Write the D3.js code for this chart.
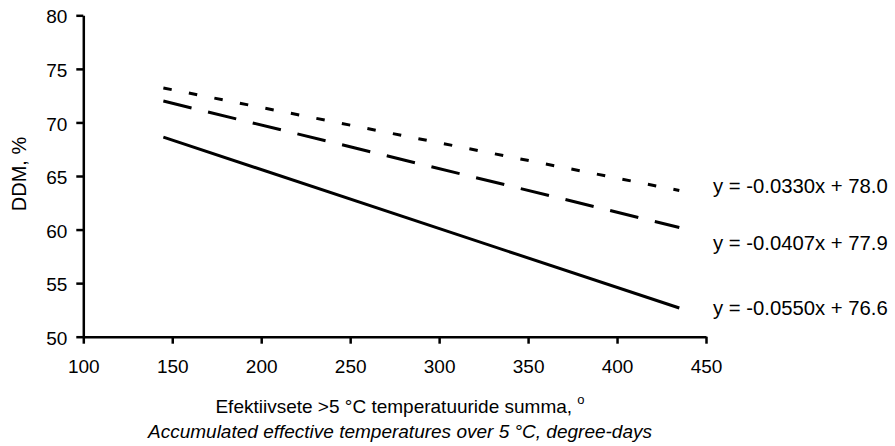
<!DOCTYPE html>
<html>
<head>
<meta charset="utf-8">
<script src="https://cdn.jsdelivr.net/npm/d3@7/dist/d3.min.js"></script>
<style>
  html, body { margin: 0; padding: 0; background: #fff; }
  svg { display: block; font-family: Arial, "Liberation Sans", sans-serif; }
</style>
</head>
<body>
<svg id="chart" width="895" height="446"></svg>
<script>
// Linear trend lines of DDM against accumulated effective temperature
const slopes = [-0.0330, -0.0407, -0.0550];
const intercepts = [78.0, 77.9, 76.6];
const seriesDash = ["8.5,17.5", "29,17", null];
const xExtent = [145, 435];
const xTicks = [100, 150, 200, 250, 300, 350, 400, 450];
const yTicks = [50, 55, 60, 65, 70, 75, 80];

const svg = d3.select("#chart");
const x = d3.scaleLinear().domain([100, 450]).range([83.3, 706]);
const y = d3.scaleLinear().domain([50, 80]).range([336.7, 15.3]);

const fontSize = 19;

// Axes
const xAxis = svg.append("g")
  .attr("transform", `translate(0,${y(50)})`)
  .call(d3.axisBottom(x).tickValues(xTicks).tickSize(7).tickPadding(18).tickSizeOuter(0).tickFormat(d3.format("d")));
const yAxis = svg.append("g")
  .attr("transform", `translate(${x(100)},0)`)
  .call(d3.axisLeft(y).tickValues(yTicks).tickSize(7).tickPadding(9).tickSizeOuter(0).tickFormat(d3.format("d")));

[xAxis, yAxis].forEach(g => {
  g.select(".domain").attr("stroke", "#000").attr("stroke-width", 2.5);
  g.selectAll(".tick line").attr("stroke", "#000").attr("stroke-width", 2.5);
  g.selectAll(".tick text").attr("fill", "#000").attr("font-size", fontSize)
    .attr("font-family", "Arial, 'Liberation Sans', sans-serif");
});
xAxis.selectAll(".tick text").attr("dy", "0.6em");
yAxis.selectAll(".tick text").attr("dy", "0.4em");

// Trend lines
const line = d3.line().x(d => x(d[0])).y(d => y(d[1]));
slopes.forEach((m, i) => {
  const pts = xExtent.map(v => [v, m * v + intercepts[i]]);
  svg.append("path")
    .attr("d", line(pts))
    .attr("fill", "none")
    .attr("stroke", "#000")
    .attr("stroke-width", 3)
    .attr("stroke-dasharray", seriesDash[i]);
});

// Equation labels
const fmt = (m, b) => `y = ${m.toFixed(4)}x + ${b.toFixed(1)}`;
const labelY = [193, 250, 315];
slopes.forEach((m, i) => {
  svg.append("text")
    .attr("x", 713)
    .attr("y", labelY[i])
    .attr("font-size", 20.3)
    .attr("fill", "#000")
    .text(fmt(m, intercepts[i]));
});

// Axis titles
svg.append("text")
  .attr("transform", `translate(26,174) rotate(-90)`)
  .attr("text-anchor", "middle")
  .attr("font-size", 20)
  .text("DDM, %");

const t1 = svg.append("text")
  .attr("x", 400).attr("y", 413)
  .attr("text-anchor", "middle")
  .attr("font-size", fontSize);
t1.append("tspan").text("Efektiivsete >5 °C temperatuuride summa, ");
t1.append("tspan").attr("font-size", 13).attr("dy", -9).text("o");

svg.append("text")
  .attr("x", 400).attr("y", 438)
  .attr("text-anchor", "middle")
  .attr("font-size", fontSize)
  .attr("font-style", "italic")
  .text("Accumulated effective temperatures over 5 \u00B0C, degree-days");
</script>
</body>
</html>
